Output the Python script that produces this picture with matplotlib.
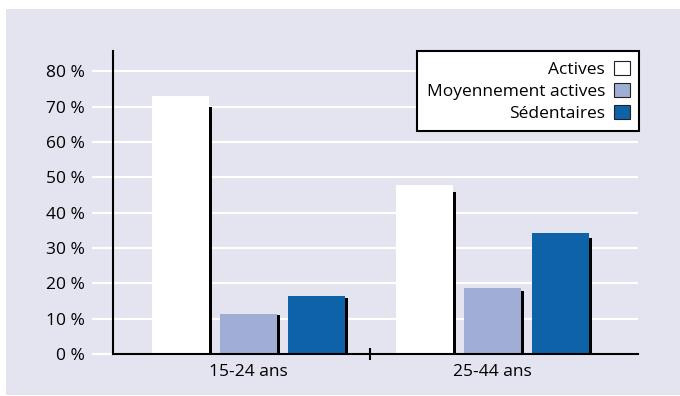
import matplotlib.pyplot as plt
from matplotlib.patches import Rectangle, Patch

# share of each activity level per age group (%)
groups = ['15-24 ans', '25-44 ans']
series = ['Actives', 'Moyennement actives', 'Sédentaires']
actives = [73.0, 47.8]
moyennes = [11.4, 18.7]
sedentaires = [16.5, 34.3]
yticks = [0, 10, 20, 30, 40, 50, 60, 70, 80]

colors = ['#ffffff', '#a0aed6', '#0e62a8']
bg = '#e4e4f0'

plt.rcParams['font.family'] = ['Open Sans', 'DejaVu Sans']

fig = plt.figure(figsize=(6.8, 3.96), dpi=100)
fig.patches.append(Rectangle((6 / 680, 1 / 396), 674 / 680, 386 / 396,
                             transform=fig.transFigure, facecolor=bg,
                             edgecolor='none', zorder=-10))

ax = fig.add_axes([113 / 680, 42 / 396, 525 / 680, 303 / 396])
ax.patch.set_visible(False)

width = 57 / 244
pitch = 68 / 244
shadow_w = 3 / 244

for i, vals in enumerate([actives, moyennes, sedentaires]):
    xs = [g + (i - 1) * pitch for g in range(len(groups))]
    # thin dark shadow along the right side of each bar
    ax.bar([x + width / 2 + shadow_w / 2 for x in xs], [v * 0.96 for v in vals],
           width=shadow_w, color='black', zorder=2)
    ax.bar(xs, vals, width=width, color=colors[i], zorder=3)

# white grid lines, running a little past the y axis
ax.hlines(yticks, -0.04, 1, transform=ax.get_yaxis_transform(),
          colors='white', lw=1.6, clip_on=False, zorder=1)

ax.set_xlim(-0.555, 1.596)
ax.set_ylim(0, 85.8)

ax.set_yticks(yticks)
ax.set_yticklabels([f'{t} %' for t in yticks])
ax.tick_params(axis='y', length=0, pad=20, labelsize=12.5)

ax.set_xticks([0.5])
ax.set_xticklabels([''])
ax.tick_params(axis='x', which='major', direction='inout', length=8, width=1.5)
ax.set_xticks([0, 1], minor=True)
ax.set_xticklabels(groups, minor=True)
ax.tick_params(axis='x', which='minor', length=0, pad=7, labelsize=12.5)

for side in ['top', 'right']:
    ax.spines[side].set_visible(False)
for side in ['left', 'bottom']:
    ax.spines[side].set_linewidth(1.5)
    ax.spines[side].set_zorder(4)

handles = [Patch(facecolor=c, edgecolor='#222222', lw=0.8) for c in colors]
leg = ax.legend(handles, series, loc='upper right', bbox_to_anchor=(1.002, 1.0),
                borderaxespad=0, markerfirst=False, fancybox=False,
                fontsize=12.5, handlelength=0.9, handleheight=0.9,
                handletextpad=0.5, labelspacing=0.28, borderpad=0.55,
                framealpha=1)
leg.get_frame().set_edgecolor('black')
leg.get_frame().set_linewidth(1.5)

fig.savefig('out.png', dpi=100, facecolor='white')
